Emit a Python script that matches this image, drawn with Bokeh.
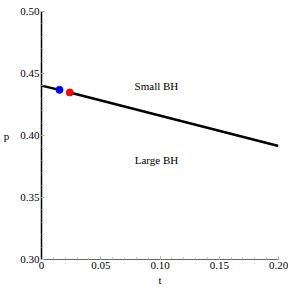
from bokeh.plotting import figure
from bokeh.embed import file_html
from bokeh.resources import INLINE
from bokeh.models import Range1d, FixedTicker, Label
from bokeh.core.properties import value

# data
line1_t = [0.0, 0.0152]
line1_p = [0.4402, 0.4368]
line2_t = [0.0239, 0.20]
line2_p = [0.4347, 0.3916]
blue_t, blue_p = [0.0152], [0.4368]
red_t, red_p = [0.0239], [0.4347]
labels = ["Small BH", "Large BH"]
label_t = [0.097, 0.097]
label_p = [0.440, 0.380]
xticks = [0, 0.05, 0.10, 0.15, 0.20]
xtick_labels = ["0", "0.05", "0.10", "0.15", "0.20"]
yticks = [0.30, 0.35, 0.40, 0.45, 0.50]
ytick_labels = ["0.30", "0.35", "0.40", "0.45", "0.50"]

FONT = "Liberation Serif"

p = figure(width=288, height=288, output_backend="svg", toolbar_location=None,
           x_range=Range1d(0, 0.20), y_range=Range1d(0.30, 0.50),
           min_border_left=41, min_border_right=10, min_border_top=11, min_border_bottom=28)
p.outline_line_color = None
p.grid.visible = False

p.line(line1_t, line1_p, line_color="black", line_width=2.5)
p.line(line2_t, line2_p, line_color="black", line_width=2.5)
p.scatter(blue_t, blue_p, size=7, color="blue")
p.scatter(red_t, red_p, size=7, color="red")

for txt, tx, ty in zip(labels, label_t, label_p):
    p.add_layout(Label(x=tx, y=ty, text=txt, text_font=FONT, text_font_size="11px",
                       text_align="center", text_baseline="middle", text_color="black"))

p.xaxis.ticker = FixedTicker(ticks=xticks,
                             minor_ticks=[i * 0.01 for i in range(21)])
p.xaxis.major_label_overrides = dict(zip(xticks, xtick_labels))
p.yaxis.ticker = FixedTicker(ticks=yticks,
                             minor_ticks=[0.30 + i * 0.01 for i in range(21)])
p.yaxis.major_label_overrides = dict(zip(yticks, ytick_labels))

for ax in (p.xaxis, p.yaxis):
    ax.major_label_text_font = FONT
    ax.major_label_text_font_size = "11px"
    ax.major_label_text_color = "black"
    ax.axis_label_text_font = FONT
    ax.axis_label_text_font_size = "11px"
    ax.axis_label_text_font_style = "normal"
    ax.axis_label_text_color = "black"
    ax.major_tick_in = 3
    ax.major_tick_out = 0
    ax.minor_tick_in = 2
    ax.minor_tick_out = 0
    ax.major_tick_line_color = "#999999"
    ax.minor_tick_line_color = "#bbbbbb"
    ax.major_label_standoff = 2

p.xaxis.axis_label = "t"
p.xaxis.axis_line_color = "#666666"
p.xaxis.axis_label_standoff = 2
p.yaxis.axis_label = "p"
p.yaxis.axis_label_orientation = "horizontal"
p.yaxis.axis_line_color = "black"
p.yaxis.axis_line_width = 1.5
p.yaxis.axis_label_standoff = 8

open("out.html", "w").write(file_html(p, INLINE))
